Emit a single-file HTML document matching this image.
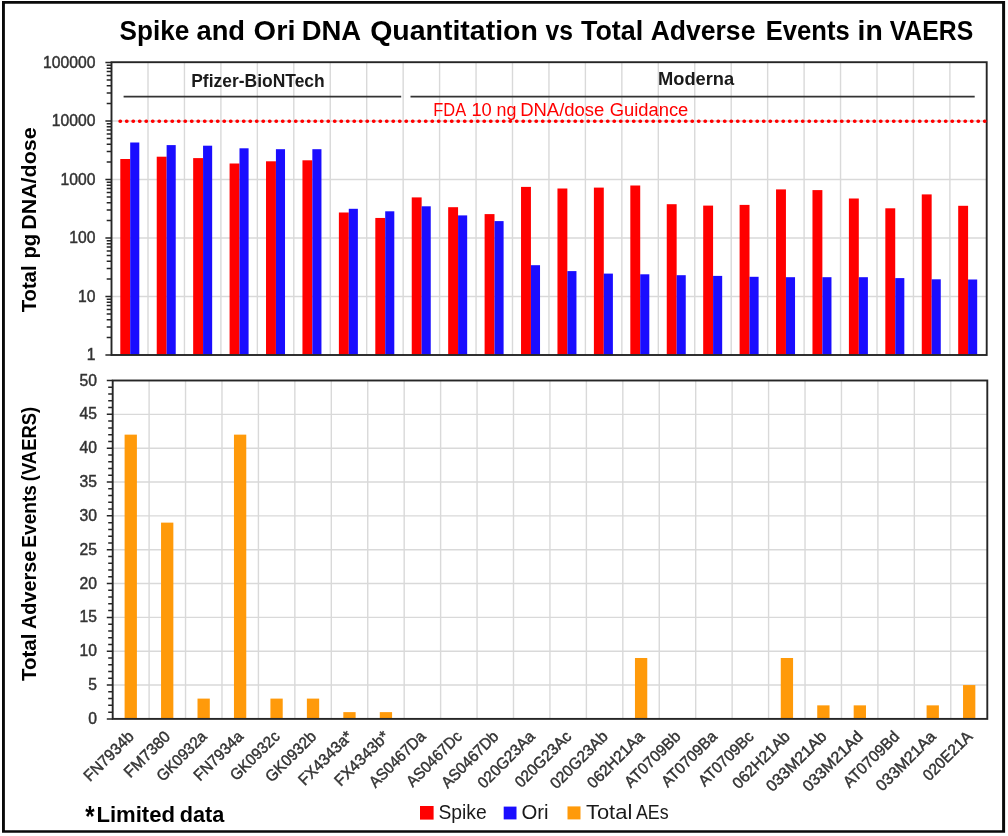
<!DOCTYPE html>
<html><head><meta charset="utf-8"><title>Chart</title>
<style>html,body{margin:0;padding:0;background:#fff;}svg{position:absolute;left:0;top:0;filter:blur(0.45px);}body{width:1008px;height:836px;overflow:hidden;font-family:"Liberation Sans",sans-serif;}svg text{font-family:"Liberation Sans",sans-serif;}</style></head>
<body>
<svg width="1008" height="836" viewBox="0 0 1008 836" style="display:block" font-family="Liberation Sans, sans-serif">
<rect x="0" y="0" width="1008" height="836" fill="#fff"/>
<path d="M2 0.9H1005.1V832.7H2Z M4.9 3.8V830.2H1002.1V3.8Z" fill="#0a0a0a" fill-rule="evenodd"/>
<path d="M148.00 62.5V355.0M184.45 62.5V355.0M220.90 62.5V355.0M257.35 62.5V355.0M293.80 62.5V355.0M330.25 62.5V355.0M366.70 62.5V355.0M403.15 62.5V355.0M439.60 62.5V355.0M476.05 62.5V355.0M512.50 62.5V355.0M548.95 62.5V355.0M585.40 62.5V355.0M621.85 62.5V355.0M658.30 62.5V355.0M694.75 62.5V355.0M731.20 62.5V355.0M767.65 62.5V355.0M804.10 62.5V355.0M840.55 62.5V355.0M877.00 62.5V355.0M913.45 62.5V355.0M949.90 62.5V355.0M111.5 121.00H986.7M111.5 179.50H986.7M111.5 238.00H986.7M111.5 296.50H986.7" stroke="#d9d9d9" stroke-width="1.4" fill="none"/>
<rect x="120.30" y="159.00" width="9.9" height="196.00" fill="#ff0000"/>
<rect x="130.20" y="142.50" width="9.1" height="212.50" fill="#1a0dff"/>
<rect x="156.73" y="156.70" width="9.9" height="198.30" fill="#ff0000"/>
<rect x="166.63" y="145.10" width="9.1" height="209.90" fill="#1a0dff"/>
<rect x="193.16" y="158.10" width="9.9" height="196.90" fill="#ff0000"/>
<rect x="203.06" y="145.70" width="9.1" height="209.30" fill="#1a0dff"/>
<rect x="229.59" y="163.50" width="9.9" height="191.50" fill="#ff0000"/>
<rect x="239.49" y="148.30" width="9.1" height="206.70" fill="#1a0dff"/>
<rect x="266.02" y="161.30" width="9.9" height="193.70" fill="#ff0000"/>
<rect x="275.92" y="149.20" width="9.1" height="205.80" fill="#1a0dff"/>
<rect x="302.45" y="160.30" width="9.9" height="194.70" fill="#ff0000"/>
<rect x="312.35" y="149.20" width="9.1" height="205.80" fill="#1a0dff"/>
<rect x="338.88" y="212.50" width="9.9" height="142.50" fill="#ff0000"/>
<rect x="348.78" y="208.80" width="9.1" height="146.20" fill="#1a0dff"/>
<rect x="375.31" y="217.95" width="9.9" height="137.05" fill="#ff0000"/>
<rect x="385.21" y="211.30" width="9.1" height="143.70" fill="#1a0dff"/>
<rect x="411.74" y="197.40" width="9.9" height="157.60" fill="#ff0000"/>
<rect x="421.64" y="206.30" width="9.1" height="148.70" fill="#1a0dff"/>
<rect x="448.17" y="207.20" width="9.9" height="147.80" fill="#ff0000"/>
<rect x="458.07" y="215.40" width="9.1" height="139.60" fill="#1a0dff"/>
<rect x="484.60" y="214.10" width="9.9" height="140.90" fill="#ff0000"/>
<rect x="494.50" y="221.10" width="9.1" height="133.90" fill="#1a0dff"/>
<rect x="521.03" y="186.90" width="9.9" height="168.10" fill="#ff0000"/>
<rect x="530.93" y="265.20" width="9.1" height="89.80" fill="#1a0dff"/>
<rect x="557.46" y="188.50" width="9.9" height="166.50" fill="#ff0000"/>
<rect x="567.36" y="271.10" width="9.1" height="83.90" fill="#1a0dff"/>
<rect x="593.89" y="187.60" width="9.9" height="167.40" fill="#ff0000"/>
<rect x="603.79" y="273.60" width="9.1" height="81.40" fill="#1a0dff"/>
<rect x="630.32" y="185.50" width="9.9" height="169.50" fill="#ff0000"/>
<rect x="640.22" y="274.30" width="9.1" height="80.70" fill="#1a0dff"/>
<rect x="666.75" y="204.20" width="9.9" height="150.80" fill="#ff0000"/>
<rect x="676.65" y="275.20" width="9.1" height="79.80" fill="#1a0dff"/>
<rect x="703.18" y="205.60" width="9.9" height="149.40" fill="#ff0000"/>
<rect x="713.08" y="275.90" width="9.1" height="79.10" fill="#1a0dff"/>
<rect x="739.61" y="204.90" width="9.9" height="150.10" fill="#ff0000"/>
<rect x="749.51" y="276.80" width="9.1" height="78.20" fill="#1a0dff"/>
<rect x="776.04" y="189.40" width="9.9" height="165.60" fill="#ff0000"/>
<rect x="785.94" y="277.20" width="9.1" height="77.80" fill="#1a0dff"/>
<rect x="812.47" y="190.10" width="9.9" height="164.90" fill="#ff0000"/>
<rect x="822.37" y="277.20" width="9.1" height="77.80" fill="#1a0dff"/>
<rect x="848.90" y="198.50" width="9.9" height="156.50" fill="#ff0000"/>
<rect x="858.80" y="277.20" width="9.1" height="77.80" fill="#1a0dff"/>
<rect x="885.33" y="208.30" width="9.9" height="146.70" fill="#ff0000"/>
<rect x="895.23" y="278.10" width="9.1" height="76.90" fill="#1a0dff"/>
<rect x="921.76" y="194.40" width="9.9" height="160.60" fill="#ff0000"/>
<rect x="931.66" y="279.30" width="9.1" height="75.70" fill="#1a0dff"/>
<rect x="958.19" y="205.80" width="9.9" height="149.20" fill="#ff0000"/>
<rect x="968.09" y="279.50" width="9.1" height="75.50" fill="#1a0dff"/>
<path d="M105.40 62.50H111.5M106.70 103.39H111.5M106.70 93.09H111.5M106.70 85.78H111.5M106.70 80.11H111.5M106.70 75.48H111.5M106.70 71.56H111.5M106.70 68.17H111.5M106.70 65.18H111.5M105.40 121.00H111.5M106.70 161.89H111.5M106.70 151.59H111.5M106.70 144.28H111.5M106.70 138.61H111.5M106.70 133.98H111.5M106.70 130.06H111.5M106.70 126.67H111.5M106.70 123.68H111.5M105.40 179.50H111.5M106.70 220.39H111.5M106.70 210.09H111.5M106.70 202.78H111.5M106.70 197.11H111.5M106.70 192.48H111.5M106.70 188.56H111.5M106.70 185.17H111.5M106.70 182.18H111.5M105.40 238.00H111.5M106.70 278.89H111.5M106.70 268.59H111.5M106.70 261.28H111.5M106.70 255.61H111.5M106.70 250.98H111.5M106.70 247.06H111.5M106.70 243.67H111.5M106.70 240.68H111.5M105.40 296.50H111.5M106.70 337.39H111.5M106.70 327.09H111.5M106.70 319.78H111.5M106.70 314.11H111.5M106.70 309.48H111.5M106.70 305.56H111.5M106.70 302.17H111.5M106.70 299.18H111.5M105.40 355.00H111.5" stroke="#262626" stroke-width="1.5" fill="none"/>
<rect x="111.5" y="62.2" width="875.20" height="292.80" fill="none" stroke="#262626" stroke-width="1.9"/>
<path d="M123.6 96.6H401.2M410.5 96.6H974.7" stroke="#333" stroke-width="1.8" fill="none"/>
<line x1="120.1" y1="121.2" x2="986.7" y2="121.2" stroke="#ff0000" stroke-width="3.6" stroke-dasharray="0.3 6.2" stroke-linecap="round"/>
<text x="95.4" y="67.60" font-size="15.7" text-anchor="end" fill="#333333" stroke="#333333" stroke-width="0.45">100000</text>
<text x="95.4" y="126.10" font-size="15.7" text-anchor="end" fill="#333333" stroke="#333333" stroke-width="0.45">10000</text>
<text x="95.4" y="184.60" font-size="15.7" text-anchor="end" fill="#333333" stroke="#333333" stroke-width="0.45">1000</text>
<text x="95.4" y="243.10" font-size="15.7" text-anchor="end" fill="#333333" stroke="#333333" stroke-width="0.45">100</text>
<text x="95.4" y="301.60" font-size="15.7" text-anchor="end" fill="#333333" stroke="#333333" stroke-width="0.45">10</text>
<text x="95.4" y="360.10" font-size="15.7" text-anchor="end" fill="#333333" stroke="#333333" stroke-width="0.45">1</text>
<path d="M149.10 380.5V718.9M185.54 380.5V718.9M221.98 380.5V718.9M258.42 380.5V718.9M294.86 380.5V718.9M331.30 380.5V718.9M367.74 380.5V718.9M404.18 380.5V718.9M440.62 380.5V718.9M477.06 380.5V718.9M513.50 380.5V718.9M549.94 380.5V718.9M586.38 380.5V718.9M622.82 380.5V718.9M659.26 380.5V718.9M695.70 380.5V718.9M732.14 380.5V718.9M768.58 380.5V718.9M805.02 380.5V718.9M841.46 380.5V718.9M877.90 380.5V718.9M914.34 380.5V718.9M950.78 380.5V718.9M112.7 414.34H987.3M112.7 448.18H987.3M112.7 482.02H987.3M112.7 515.86H987.3M112.7 549.70H987.3M112.7 583.54H987.3M112.7 617.38H987.3M112.7 651.22H987.3M112.7 685.06H987.3" stroke="#d9d9d9" stroke-width="1.4" fill="none"/>
<rect x="124.60" y="434.64" width="12.3" height="284.26" fill="#ff9a0a"/>
<rect x="161.05" y="522.63" width="12.3" height="196.27" fill="#ff9a0a"/>
<rect x="197.51" y="698.60" width="12.3" height="20.30" fill="#ff9a0a"/>
<rect x="233.96" y="434.64" width="12.3" height="284.26" fill="#ff9a0a"/>
<rect x="270.42" y="698.60" width="12.3" height="20.30" fill="#ff9a0a"/>
<rect x="306.87" y="698.60" width="12.3" height="20.30" fill="#ff9a0a"/>
<rect x="343.32" y="712.13" width="12.3" height="6.77" fill="#ff9a0a"/>
<rect x="379.78" y="712.13" width="12.3" height="6.77" fill="#ff9a0a"/>
<rect x="634.96" y="657.99" width="12.3" height="60.91" fill="#ff9a0a"/>
<rect x="780.77" y="657.99" width="12.3" height="60.91" fill="#ff9a0a"/>
<rect x="817.23" y="705.36" width="12.3" height="13.54" fill="#ff9a0a"/>
<rect x="853.68" y="705.36" width="12.3" height="13.54" fill="#ff9a0a"/>
<rect x="926.59" y="705.36" width="12.3" height="13.54" fill="#ff9a0a"/>
<rect x="963.04" y="685.06" width="12.3" height="33.84" fill="#ff9a0a"/>
<path d="M106.80 380.50H112.7M108.20 387.27H112.7M108.20 394.04H112.7M108.20 400.80H112.7M108.20 407.57H112.7M106.80 414.34H112.7M108.20 421.11H112.7M108.20 427.88H112.7M108.20 434.64H112.7M108.20 441.41H112.7M106.80 448.18H112.7M108.20 454.95H112.7M108.20 461.72H112.7M108.20 468.48H112.7M108.20 475.25H112.7M106.80 482.02H112.7M108.20 488.79H112.7M108.20 495.56H112.7M108.20 502.32H112.7M108.20 509.09H112.7M106.80 515.86H112.7M108.20 522.63H112.7M108.20 529.40H112.7M108.20 536.16H112.7M108.20 542.93H112.7M106.80 549.70H112.7M108.20 556.47H112.7M108.20 563.24H112.7M108.20 570.00H112.7M108.20 576.77H112.7M106.80 583.54H112.7M108.20 590.31H112.7M108.20 597.08H112.7M108.20 603.84H112.7M108.20 610.61H112.7M106.80 617.38H112.7M108.20 624.15H112.7M108.20 630.92H112.7M108.20 637.68H112.7M108.20 644.45H112.7M106.80 651.22H112.7M108.20 657.99H112.7M108.20 664.76H112.7M108.20 671.52H112.7M108.20 678.29H112.7M106.80 685.06H112.7M108.20 691.83H112.7M108.20 698.60H112.7M108.20 705.36H112.7M108.20 712.13H112.7M106.80 718.90H112.7" stroke="#262626" stroke-width="1.5" fill="none"/>
<rect x="112.7" y="380.5" width="874.60" height="338.40" fill="none" stroke="#262626" stroke-width="1.9"/>
<text x="97.0" y="385.60" font-size="15.7" text-anchor="end" fill="#333333" stroke="#333333" stroke-width="0.45">50</text>
<text x="97.0" y="419.44" font-size="15.7" text-anchor="end" fill="#333333" stroke="#333333" stroke-width="0.45">45</text>
<text x="97.0" y="453.28" font-size="15.7" text-anchor="end" fill="#333333" stroke="#333333" stroke-width="0.45">40</text>
<text x="97.0" y="487.12" font-size="15.7" text-anchor="end" fill="#333333" stroke="#333333" stroke-width="0.45">35</text>
<text x="97.0" y="520.96" font-size="15.7" text-anchor="end" fill="#333333" stroke="#333333" stroke-width="0.45">30</text>
<text x="97.0" y="554.80" font-size="15.7" text-anchor="end" fill="#333333" stroke="#333333" stroke-width="0.45">25</text>
<text x="97.0" y="588.64" font-size="15.7" text-anchor="end" fill="#333333" stroke="#333333" stroke-width="0.45">20</text>
<text x="97.0" y="622.48" font-size="15.7" text-anchor="end" fill="#333333" stroke="#333333" stroke-width="0.45">15</text>
<text x="97.0" y="656.32" font-size="15.7" text-anchor="end" fill="#333333" stroke="#333333" stroke-width="0.45">10</text>
<text x="97.0" y="690.16" font-size="15.7" text-anchor="end" fill="#333333" stroke="#333333" stroke-width="0.45">5</text>
<text x="97.0" y="724.00" font-size="15.7" text-anchor="end" fill="#333333" stroke="#333333" stroke-width="0.45">0</text>
<text transform="translate(134.85 737.50) rotate(-45)" x="-63.39" y="0" font-size="16" textLength="63.39" lengthAdjust="spacingAndGlyphs" fill="#333333" stroke="#333333" stroke-width="0.45">FN7934b</text>
<text transform="translate(171.30 737.50) rotate(-45)" x="-57.91" y="0" font-size="16" textLength="57.91" lengthAdjust="spacingAndGlyphs" fill="#333333" stroke="#333333" stroke-width="0.45">FM7380</text>
<text transform="translate(207.76 737.50) rotate(-45)" x="-63.37" y="0" font-size="16" textLength="63.37" lengthAdjust="spacingAndGlyphs" fill="#333333" stroke="#333333" stroke-width="0.45">GK0932a</text>
<text transform="translate(244.21 737.50) rotate(-45)" x="-62.58" y="0" font-size="16" textLength="62.58" lengthAdjust="spacingAndGlyphs" fill="#333333" stroke="#333333" stroke-width="0.45">FN7934a</text>
<text transform="translate(280.67 737.50) rotate(-45)" x="-62.40" y="0" font-size="16" textLength="62.40" lengthAdjust="spacingAndGlyphs" fill="#333333" stroke="#333333" stroke-width="0.45">GK0932c</text>
<text transform="translate(317.12 737.50) rotate(-45)" x="-64.18" y="0" font-size="16" textLength="64.18" lengthAdjust="spacingAndGlyphs" fill="#333333" stroke="#333333" stroke-width="0.45">GK0932b</text>
<text transform="translate(353.57 737.50) rotate(-45)" x="-69.02" y="0" font-size="16" textLength="69.02" lengthAdjust="spacingAndGlyphs" fill="#333333" stroke="#333333" stroke-width="0.45">FX4343a*</text>
<text transform="translate(390.03 737.50) rotate(-45)" x="-69.83" y="0" font-size="16" textLength="69.83" lengthAdjust="spacingAndGlyphs" fill="#333333" stroke="#333333" stroke-width="0.45">FX4343b*</text>
<text transform="translate(426.48 737.50) rotate(-45)" x="-72.09" y="0" font-size="16" textLength="72.09" lengthAdjust="spacingAndGlyphs" fill="#333333" stroke="#333333" stroke-width="0.45">AS0467Da</text>
<text transform="translate(462.94 737.50) rotate(-45)" x="-71.11" y="0" font-size="16" textLength="71.11" lengthAdjust="spacingAndGlyphs" fill="#333333" stroke="#333333" stroke-width="0.45">AS0467Dc</text>
<text transform="translate(499.39 737.50) rotate(-45)" x="-72.89" y="0" font-size="16" textLength="72.89" lengthAdjust="spacingAndGlyphs" fill="#333333" stroke="#333333" stroke-width="0.45">AS0467Db</text>
<text transform="translate(535.84 737.50) rotate(-45)" x="-73.18" y="0" font-size="16" textLength="73.18" lengthAdjust="spacingAndGlyphs" fill="#333333" stroke="#333333" stroke-width="0.45">020G23Aa</text>
<text transform="translate(572.30 737.50) rotate(-45)" x="-72.21" y="0" font-size="16" textLength="72.21" lengthAdjust="spacingAndGlyphs" fill="#333333" stroke="#333333" stroke-width="0.45">020G23Ac</text>
<text transform="translate(608.75 737.50) rotate(-45)" x="-73.98" y="0" font-size="16" textLength="73.98" lengthAdjust="spacingAndGlyphs" fill="#333333" stroke="#333333" stroke-width="0.45">020G23Ab</text>
<text transform="translate(645.21 737.50) rotate(-45)" x="-73.04" y="0" font-size="16" textLength="73.04" lengthAdjust="spacingAndGlyphs" fill="#333333" stroke="#333333" stroke-width="0.45">062H21Aa</text>
<text transform="translate(681.66 737.50) rotate(-45)" x="-72.14" y="0" font-size="16" textLength="72.14" lengthAdjust="spacingAndGlyphs" fill="#333333" stroke="#333333" stroke-width="0.45">AT0709Bb</text>
<text transform="translate(718.11 737.50) rotate(-45)" x="-71.33" y="0" font-size="16" textLength="71.33" lengthAdjust="spacingAndGlyphs" fill="#333333" stroke="#333333" stroke-width="0.45">AT0709Ba</text>
<text transform="translate(754.57 737.50) rotate(-45)" x="-70.36" y="0" font-size="16" textLength="70.36" lengthAdjust="spacingAndGlyphs" fill="#333333" stroke="#333333" stroke-width="0.45">AT0709Bc</text>
<text transform="translate(791.02 737.50) rotate(-45)" x="-73.85" y="0" font-size="16" textLength="73.85" lengthAdjust="spacingAndGlyphs" fill="#333333" stroke="#333333" stroke-width="0.45">062H21Ab</text>
<text transform="translate(827.48 737.50) rotate(-45)" x="-77.87" y="0" font-size="16" textLength="77.87" lengthAdjust="spacingAndGlyphs" fill="#333333" stroke="#333333" stroke-width="0.45">033M21Ab</text>
<text transform="translate(863.93 737.50) rotate(-45)" x="-77.87" y="0" font-size="16" textLength="77.87" lengthAdjust="spacingAndGlyphs" fill="#333333" stroke="#333333" stroke-width="0.45">033M21Ad</text>
<text transform="translate(900.38 737.50) rotate(-45)" x="-72.14" y="0" font-size="16" textLength="72.14" lengthAdjust="spacingAndGlyphs" fill="#333333" stroke="#333333" stroke-width="0.45">AT0709Bd</text>
<text transform="translate(936.84 737.50) rotate(-45)" x="-77.06" y="0" font-size="16" textLength="77.06" lengthAdjust="spacingAndGlyphs" fill="#333333" stroke="#333333" stroke-width="0.45">033M21Aa</text>
<text transform="translate(973.29 737.50) rotate(-45)" x="-62.41" y="0" font-size="16" textLength="62.41" lengthAdjust="spacingAndGlyphs" fill="#333333" stroke="#333333" stroke-width="0.45">020E21A</text>
<text x="119.52" y="39.7" font-size="27.8" textLength="69.75" lengthAdjust="spacingAndGlyphs" font-weight="bold" fill="#000">Spike</text>
<text x="196.48" y="39.7" font-size="27.8" textLength="48.61" lengthAdjust="spacingAndGlyphs" font-weight="bold" fill="#000">and</text>
<text x="253.64" y="39.7" font-size="27.8" textLength="41.89" lengthAdjust="spacingAndGlyphs" font-weight="bold" fill="#000">Ori</text>
<text x="301.65" y="39.7" font-size="27.8" textLength="59.48" lengthAdjust="spacingAndGlyphs" font-weight="bold" fill="#000">DNA</text>
<text x="370.16" y="39.7" font-size="27.8" textLength="167.77" lengthAdjust="spacingAndGlyphs" font-weight="bold" fill="#000">Quantitation</text>
<text x="545.48" y="39.7" font-size="27.8" textLength="27.47" lengthAdjust="spacingAndGlyphs" font-weight="bold" fill="#000">vs</text>
<text x="580.96" y="39.7" font-size="27.8" textLength="62.31" lengthAdjust="spacingAndGlyphs" font-weight="bold" fill="#000">Total</text>
<text x="650.64" y="39.7" font-size="27.8" textLength="104.78" lengthAdjust="spacingAndGlyphs" font-weight="bold" fill="#000">Adverse</text>
<text x="765.77" y="39.7" font-size="27.8" textLength="83.90" lengthAdjust="spacingAndGlyphs" font-weight="bold" fill="#000">Events</text>
<text x="857.51" y="39.7" font-size="27.8" textLength="25.22" lengthAdjust="spacingAndGlyphs" font-weight="bold" fill="#000">in</text>
<text x="889.71" y="39.7" font-size="27.8" textLength="83.44" lengthAdjust="spacingAndGlyphs" font-weight="bold" fill="#000">VAERS</text>
<text x="191.22" y="86.6" font-size="18.4" textLength="133.50" lengthAdjust="spacingAndGlyphs" font-weight="bold" fill="#1a1a1a">Pfizer-BioNTech</text>
<text x="657.97" y="84.7" font-size="18.4" textLength="76.24" lengthAdjust="spacingAndGlyphs" font-weight="bold" fill="#1a1a1a">Moderna</text>
<text x="433.35" y="116.2" font-size="18" textLength="32.79" lengthAdjust="spacingAndGlyphs" fill="#ff0000">FDA</text>
<text x="471.42" y="116.2" font-size="18" textLength="20.41" lengthAdjust="spacingAndGlyphs" fill="#ff0000">10</text>
<text x="496.59" y="116.2" font-size="18" textLength="19.86" lengthAdjust="spacingAndGlyphs" fill="#ff0000">ng</text>
<text x="520.18" y="116.2" font-size="18" textLength="84.21" lengthAdjust="spacingAndGlyphs" fill="#ff0000">DNA/dose</text>
<text x="609.68" y="116.2" font-size="18" textLength="78.62" lengthAdjust="spacingAndGlyphs" fill="#ff0000">Guidance</text>
<text transform="translate(35.7 312.10) rotate(-90)" x="-0.25" y="0" font-size="20.4" textLength="46.86" lengthAdjust="spacingAndGlyphs" font-weight="bold" fill="#000">Total</text>
<text transform="translate(35.7 257.30) rotate(-90)" x="-1.31" y="0" font-size="20.4" textLength="24.66" lengthAdjust="spacingAndGlyphs" font-weight="bold" fill="#000">pg</text>
<text transform="translate(35.7 228.40) rotate(-90)" x="-1.45" y="0" font-size="20.4" textLength="102.47" lengthAdjust="spacingAndGlyphs" font-weight="bold" fill="#000">DNA/dose</text>
<text transform="translate(35.7 680.80) rotate(-90)" x="-0.26" y="0" font-size="20.4" textLength="47.38" lengthAdjust="spacingAndGlyphs" font-weight="bold" fill="#000">Total</text>
<text transform="translate(35.7 628.50) rotate(-90)" x="-0.50" y="0" font-size="20.4" textLength="78.28" lengthAdjust="spacingAndGlyphs" font-weight="bold" fill="#000">Adverse</text>
<text transform="translate(35.7 546.40) rotate(-90)" x="-1.29" y="0" font-size="20.4" textLength="62.69" lengthAdjust="spacingAndGlyphs" font-weight="bold" fill="#000">Events</text>
<text transform="translate(35.7 480.30) rotate(-90)" x="-0.92" y="0" font-size="20.4" textLength="74.33" lengthAdjust="spacingAndGlyphs" font-weight="bold" fill="#000">(VAERS)</text>
<text x="96.41" y="821.8" font-size="22.1" textLength="78.65" lengthAdjust="spacingAndGlyphs" font-weight="bold" fill="#000">Limited</text>
<text x="179.83" y="821.8" font-size="22.1" textLength="44.53" lengthAdjust="spacingAndGlyphs" font-weight="bold" fill="#000">data</text>
<text x="85.34" y="825.5" font-size="29" textLength="9.40" lengthAdjust="spacingAndGlyphs" font-weight="bold" fill="#000">*</text>
<rect x="420" y="806" width="13.6" height="13.6" fill="#ff0000"/>
<rect x="503.7" y="806.6" width="12.8" height="12.8" fill="#1a0dff"/>
<rect x="567.5" y="806.4" width="13" height="13" fill="#ff9a0a"/>
<text x="438.43" y="819.0" font-size="20.1" textLength="48.32" lengthAdjust="spacingAndGlyphs" fill="#1a1a1a">Spike</text>
<text x="521.43" y="819.0" font-size="20.1" textLength="27.15" lengthAdjust="spacingAndGlyphs" fill="#1a1a1a">Ori</text>
<text x="585.91" y="819.0" font-size="20.1" textLength="46.37" lengthAdjust="spacingAndGlyphs" fill="#1a1a1a">Total</text>
<text x="635.96" y="819.0" font-size="20.1" textLength="32.65" lengthAdjust="spacingAndGlyphs" fill="#1a1a1a">AEs</text>
</svg>
</body></html>
